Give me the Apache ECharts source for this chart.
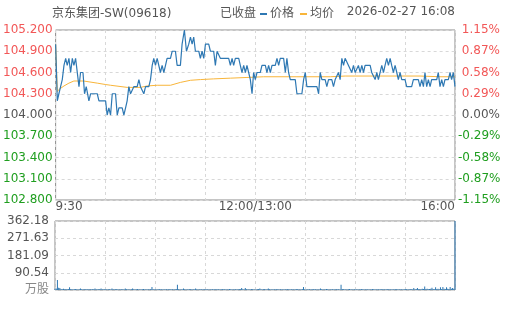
<!DOCTYPE html>
<html><head><meta charset="utf-8">
<script src="https://cdn.jsdelivr.net/npm/echarts@6/dist/echarts.min.js"></script>
<style>html,body{margin:0;padding:0;background:#fff}#c{width:505px;height:310px}</style>
</head><body><div id="c"></div>
<script>
var titleText = '京东集团-SW(09618)';
var statusText = '已收盘';
var timeText = '2026-02-27 16:08';
var prevClose = 104.0;
var xTickLabels = {0: '9:30', 165: '12:00/13:00', 330: '16:00'};
var volTickLabels = ['万股', '90.54', '181.09', '271.63', '362.18'];

var priceTimes = [0,1.4,2.7,4.1,5.5,6.9,8.3,9.6,11.0,12.4,13.8,15.1,16.5,17.9,19.3,20.6,22.6,23.9,25.3,27.5,28.9,34.4,35.8,41.3,42.6,44.0,45.4,46.8,49.5,50.9,52.3,55.0,56.4,57.8,59.1,60.5,61.9,63.3,64.6,67.4,68.8,70.1,71.5,72.9,74.3,77.0,78.4,79.8,81.1,82.5,83.9,85.3,86.6,88.0,89.4,90.8,92.1,94.9,96.3,99.0,100.4,103.1,104.5,106.4,108.1,110.0,111.4,112.8,114.1,115.5,118.3,119.6,121.0,122.4,123.8,126.5,127.9,130.6,132.0,133.4,134.8,136.1,143.0,144.4,145.8,147.1,148.5,151.3,152.6,154.0,155.4,156.8,158.1,159.5,160.9,162.3,163.6,165.0,166.4,169.1,170.5,173.3,174.6,176.0,177.4,178.8,181.5,182.9,184.3,185.6,188.4,189.8,191.1,192.5,193.9,198.0,199.4,203.5,204.9,206.3,207.6,209.0,215.9,217.3,218.6,220.0,222.7,224.1,225.5,228.2,229.6,231.0,232.4,233.7,235.1,236.5,237.9,239.2,240.6,242.0,244.7,246.1,247.5,248.9,250.2,251.6,253.0,254.4,255.7,259.9,261.2,262.6,264.0,265.4,266.7,268.1,269.5,270.9,272.2,273.6,275.0,276.4,277.7,279.1,280.5,281.9,283.2,284.6,286.0,288.7,290.1,294.2,295.6,299.7,301.1,302.5,303.9,305.2,306.6,308.0,309.4,310.7,314.9,316.2,317.6,319.0,320.4,321.7,324.5,325.9,327.2,328.6,330.0];
var priceValues = [105.0,104.2,104.3,104.4,104.5,104.7,104.8,104.7,104.8,104.6,104.8,104.7,104.8,104.8,104.4,104.6,104.6,104.3,104.4,104.2,104.3,104.3,104.2,104.2,104.0,104.1,104.0,104.3,104.3,104.0,104.1,104.1,104.0,104.1,104.2,104.4,104.3,104.3,104.4,104.4,104.5,104.4,104.4,104.3,104.4,104.4,104.5,104.7,104.8,104.7,104.8,104.8,104.6,104.7,104.6,104.7,104.8,104.8,104.9,104.9,104.7,104.7,105.0,105.2,104.9,105.0,105.1,105.0,105.1,104.9,104.9,104.8,104.9,104.8,105.0,105.0,104.9,104.9,104.7,104.9,104.9,104.8,104.8,104.7,104.8,104.7,104.8,104.8,104.7,104.6,104.7,104.6,104.7,104.6,104.5,104.3,104.6,104.5,104.6,104.6,104.7,104.7,104.6,104.7,104.6,104.7,104.7,104.8,104.7,104.8,104.8,104.6,104.8,104.6,104.5,104.5,104.3,104.3,104.5,104.6,104.4,104.4,104.4,104.3,104.6,104.5,104.5,104.4,104.5,104.5,104.4,104.5,104.5,104.6,104.5,104.8,104.7,104.8,104.8,104.7,104.6,104.7,104.6,104.6,104.7,104.6,104.7,104.6,104.7,104.7,104.6,104.6,104.5,104.6,104.5,104.5,104.7,104.6,104.7,104.8,104.7,104.8,104.7,104.6,104.7,104.6,104.5,104.6,104.5,104.5,104.4,104.4,104.5,104.5,104.4,104.5,104.4,104.6,104.4,104.5,104.4,104.5,104.5,104.6,104.4,104.5,104.4,104.5,104.5,104.6,104.5,104.6,104.4];

var avgTimes = [0,1.4,2.7,6.9,11.0,15.1,23.2,34.4,41.3,45.4,59.1,70.1,75.6,83.9,94.9,103.1,111.4,119.6,130.6,144.4,158.1,171.9,199.4,226.9,239.2,301.1,317.6,330.0];
var avgValues = [105.0,104.33,104.36,104.41,104.45,104.48,104.48,104.45,104.43,104.42,104.39,104.39,104.41,104.42,104.42,104.46,104.49,104.50,104.51,104.52,104.53,104.54,104.54,104.54,104.55,104.55,104.54,104.54];

var volumes = [
6,8,52,12,10,5,4,6,4,5,
4,5,14,5,4,3,4,5,4,3,
4,8,4,3,5,4,3,4,4,5,
3,4,4,8,4,3,4,5,8,4,
3,4,5,3,4,4,3,8,4,3,
4,5,3,4,3,4,4,3,8,4,
3,4,3,4,8,4,3,4,5,3,
4,3,4,5,3,4,3,4,3,5,
16,4,3,4,3,4,5,3,4,3,
4,3,4,3,5,4,3,4,3,4,
5,28,4,3,4,3,8,4,3,4,
3,4,5,3,4,3,8,4,3,4,
3,4,3,5,4,3,4,3,4,3,
4,3,5,4,3,4,3,4,5,3,
4,3,4,3,5,4,3,4,3,4,
3,4,5,4,10,4,3,10,4,3,
4,3,5,4,3,4,3,4,5,8,
4,3,4,5,3,4,8,4,3,4,
3,4,3,5,4,3,4,3,4,3,
4,3,5,4,3,4,3,4,3,5,
4,3,4,3,5,16,4,3,4,3,
4,3,4,5,3,4,3,4,3,8,
4,3,4,3,5,4,3,4,3,4,
3,4,5,3,4,3,28,5,4,3,
4,3,4,5,3,4,3,4,3,4,
3,4,3,5,4,3,4,3,4,3,
4,3,5,4,3,4,3,4,3,5,
4,3,4,3,5,4,3,4,3,4,
3,4,5,3,4,3,4,3,4,5,
4,3,4,5,4,3,10,4,5,10,
4,5,4,6,5,18,5,6,4,5,
6,12,5,4,14,5,6,4,14,5,
16,6,5,14,6,5,16,6,10,6,
362.18];

var FONT = "'DejaVu Sans', 'Noto Sans CJK SC', sans-serif";
var RED = '#f25757', GREEN = '#1f9e1f', GRAY = '#555';
var BLUE = '#2e78b3', ORANGE = '#f8b53a';

function colorFor(v) {
  if (Math.abs(v - prevClose) < 1e-6) return GRAY;
  return v > prevClose ? RED : GREEN;
}

var priceData = priceTimes.map(function (t, i) { return [t, priceValues[i]]; });
var avgData = avgTimes.map(function (t, i) { return [t, avgValues[i]]; });
var volData = volumes.map(function (v, i) { return [i, v]; });

var chart = echarts.init(document.getElementById('c'), null, {renderer: 'canvas'});
var split = {show: true, lineStyle: {color: '#d8d8d8', type: [3, 3], width: 1}};
var xCommon = {
  type: 'value', min: 0, max: 330, interval: 41.25,
  axisLine: {show: false}, axisTick: {show: false}, splitLine: split
};
chart.setOption({
  animation: false,
  textStyle: {fontFamily: FONT},
  graphic: [
    {type: 'text', left: 52, top: 8, style: {text: titleText, font: '12px ' + FONT, fill: GRAY}},
    {type: 'text', left: 220, top: 8, style: {text: statusText, font: '12px ' + FONT, fill: GRAY}}
  ],
  title: {
    text: timeText, right: 50, top: 6, padding: 0,
    textStyle: {fontSize: 12, fontWeight: 'normal', color: GRAY, fontFamily: FONT}
  },
  legend: {
    data: ['价格', '均价'], left: 260, top: 8, icon: 'rect', itemWidth: 7, itemHeight: 2,
    itemGap: 6, padding: 0,
    textStyle: {fontSize: 12, color: GRAY, fontFamily: FONT, padding: [0, 0, 0, -2]}
  },
  grid: [
    {left: 55, right: 50, top: 30, height: 170, show: true, borderColor: '#8a8a8a', borderWidth: 1},
    {left: 55, right: 50, top: 221, height: 69, show: true, borderColor: '#8a8a8a', borderWidth: 1}
  ],
  xAxis: [
    Object.assign({}, xCommon, {
      gridIndex: 0,
      axisLabel: {
        show: true, margin: 1, fontSize: 12, color: GRAY, fontFamily: FONT,
        alignMinLabel: 'left', alignMaxLabel: 'right',
        formatter: function (v) {
          for (var k in xTickLabels) { if (Math.abs(v - Number(k)) < 0.01) return xTickLabels[k]; }
          return '';
        }
      }
    }),
    Object.assign({}, xCommon, {gridIndex: 1, axisLabel: {show: false}})
  ],
  yAxis: [
    {
      type: 'value', gridIndex: 0, min: 102.8, max: 105.2, interval: 0.3,
      axisLine: {show: false}, axisTick: {show: false}, splitLine: split,
      axisLabel: {
        margin: 3, fontSize: 12, fontFamily: FONT,
        formatter: function (v) { return v.toFixed(3); },
        color: function (v) { return colorFor(Number(v)); }
      }
    },
    {
      type: 'value', gridIndex: 0, position: 'right', min: 102.8, max: 105.2, interval: 0.3,
      axisLine: {show: false}, axisTick: {show: false}, splitLine: {show: false},
      axisLabel: {
        margin: 3, fontSize: 12, fontFamily: FONT,
        formatter: function (v) {
          var p = (v - prevClose) / prevClose * 100;
          if (Math.abs(p) < 1e-6) p = 0;
          return (p >= 0 ? ' ' : '') + p.toFixed(2) + '%';
        },
        color: function (v) { return colorFor(Number(v)); }
      }
    },
    {
      type: 'value', gridIndex: 1, min: 0, max: 362.18, interval: 362.18 / 4,
      axisLine: {show: false}, axisTick: {show: false}, splitLine: split,
      axisLabel: {
        margin: 6, fontSize: 12, fontFamily: FONT,
        formatter: function (v) { return volTickLabels[Math.round(v / (362.18 / 4))]; },
        color: function (v) { return Number(v) === 0 ? '#888' : GRAY; }
      }
    }
  ],
  series: [
    {
      name: '价格', type: 'line', xAxisIndex: 0, yAxisIndex: 0, data: priceData,
      showSymbol: false, symbol: 'none', lineStyle: {color: BLUE, width: 1.2}, itemStyle: {color: BLUE}, z: 3
    },
    {
      name: '均价', type: 'line', xAxisIndex: 0, yAxisIndex: 0, data: avgData,
      showSymbol: false, symbol: 'none', lineStyle: {color: ORANGE, width: 1}, itemStyle: {color: ORANGE}, z: 2
    },
    {
      name: '成交量', type: 'bar', xAxisIndex: 1, yAxisIndex: 2, data: volData,
      barWidth: 1, itemStyle: {color: BLUE}
    }
  ]
});
</script></body></html>
